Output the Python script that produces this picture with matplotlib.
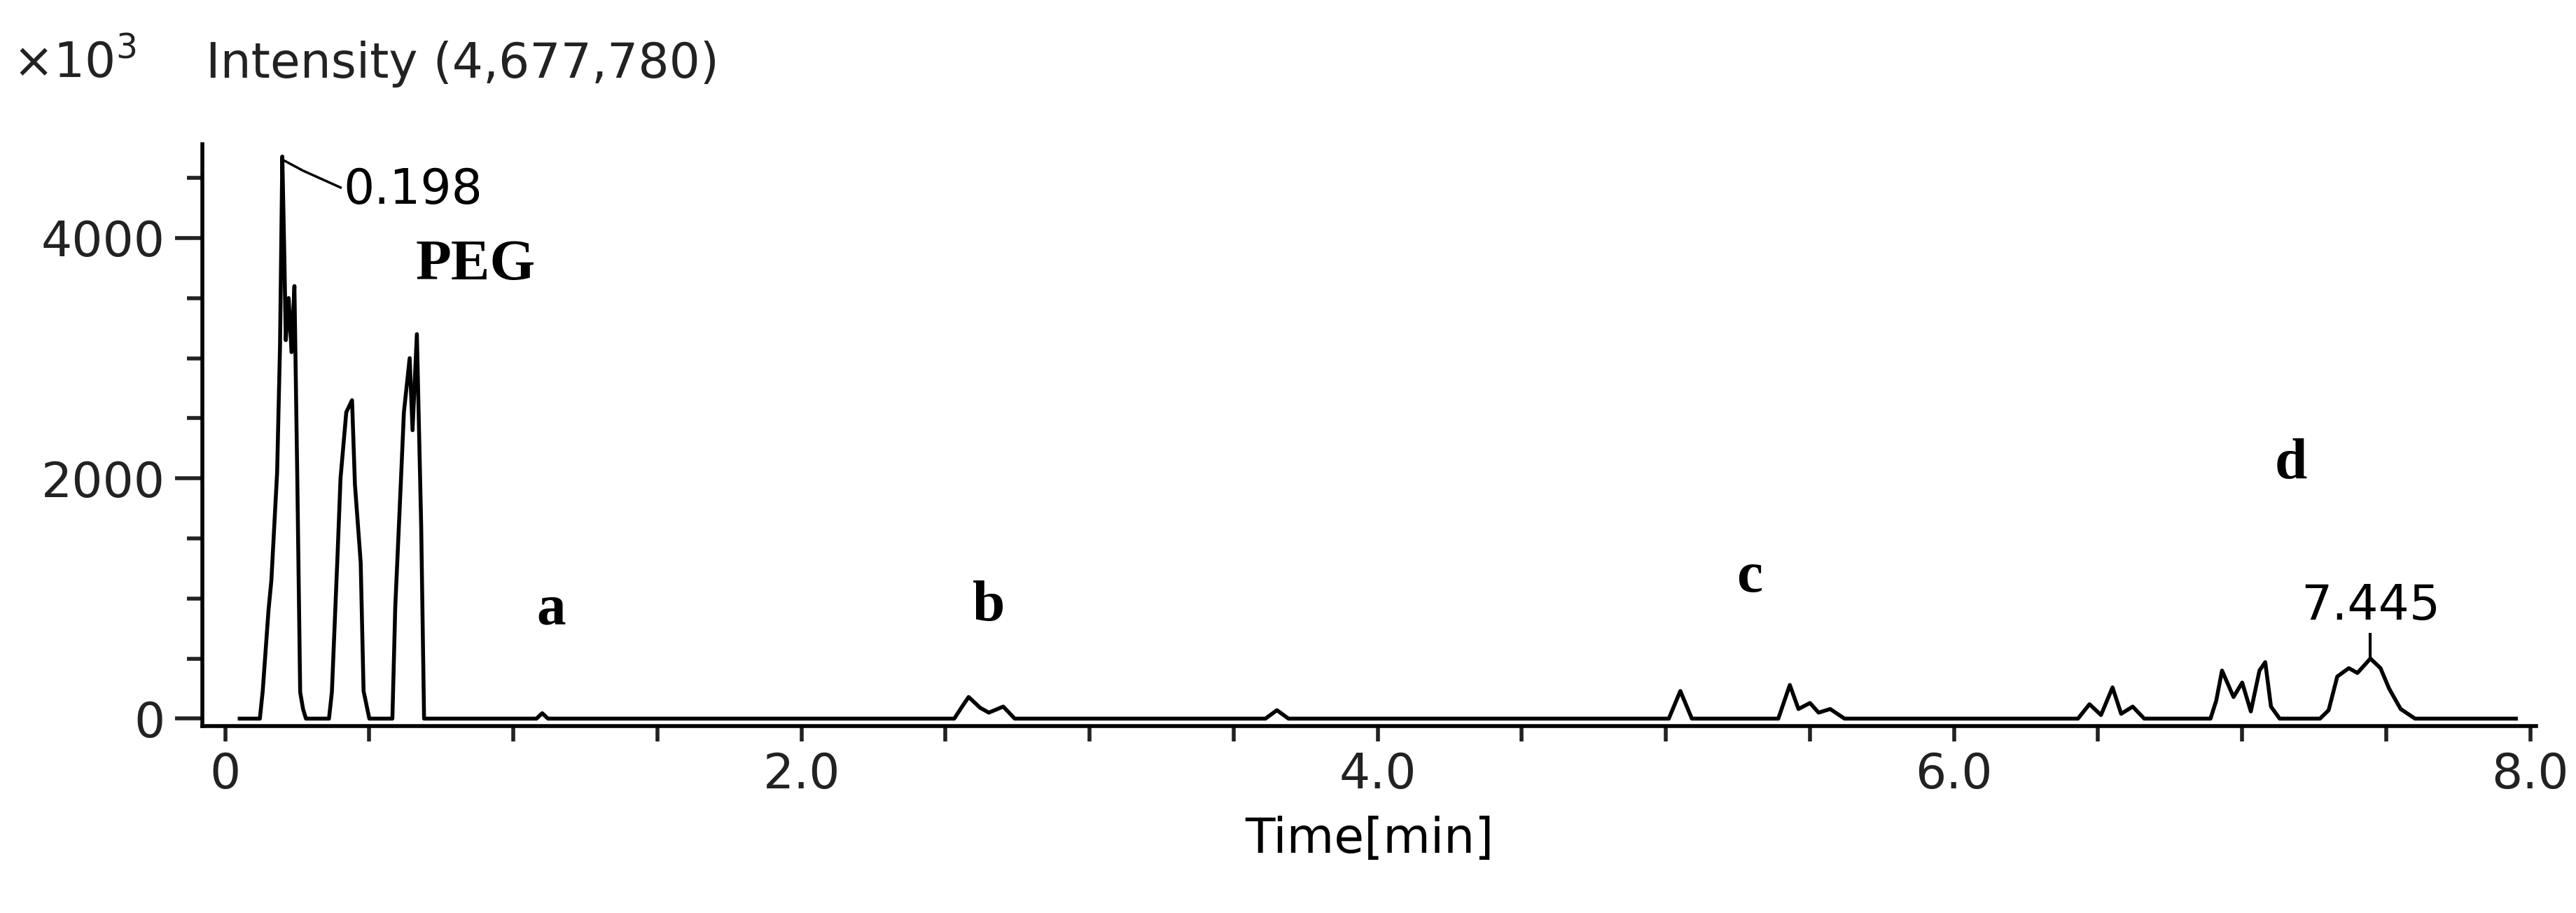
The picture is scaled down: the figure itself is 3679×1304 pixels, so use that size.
import matplotlib
matplotlib.use('Agg')
import matplotlib.pyplot as plt
from matplotlib.ticker import MultipleLocator

plt.rcParams.update({'font.family': 'DejaVu Sans', 'font.size': 50})

# chromatogram trace vertices (time [min], intensity x10^3)
time = [0.05, 0.12, 0.13, 0.15, 0.16, 0.18, 0.19, 0.198, 0.205, 0.21, 0.22, 0.23, 0.24, 0.25,
        0.26, 0.27, 0.28, 0.30, 0.36, 0.37, 0.39, 0.40, 0.42, 0.44, 0.45, 0.47, 0.48, 0.50, 0.52,
        0.58, 0.59, 0.61, 0.62, 0.64, 0.65, 0.665, 0.68, 0.69, 0.70,
        1.08, 1.10, 1.12,
        2.53, 2.56, 2.58, 2.62, 2.65, 2.70, 2.74,
        3.61, 3.65, 3.69,
        5.01, 5.05, 5.09,
        5.39, 5.43, 5.46, 5.50, 5.53, 5.57, 5.62,
        6.43, 6.47, 6.51, 6.55, 6.58, 6.62, 6.66,
        6.89, 6.91, 6.93, 6.97, 7.00, 7.03, 7.06, 7.08, 7.10, 7.13,
        7.27, 7.30, 7.33, 7.37, 7.40, 7.445, 7.48, 7.51, 7.55, 7.60, 7.95]
intensity = [0, 0, 230, 900, 1150, 2050, 3100, 4678, 3850, 3150, 3500, 3050, 3600, 2000,
             220, 80, 0, 0, 0, 220, 1380, 2000, 2550, 2650, 1950, 1300, 230, 0, 0,
             0, 930, 2000, 2550, 3000, 2400, 3200, 1600, 0, 0,
             0, 45, 0,
             0, 110, 180, 90, 50, 100, 0,
             0, 70, 0,
             0, 230, 0,
             0, 280, 80, 130, 50, 80, 0,
             0, 120, 30, 260, 40, 100, 0,
             0, 150, 400, 180, 300, 60, 400, 470, 100, 0,
             0, 70, 350, 420, 380, 500, 420, 250, 80, 0, 0]

fig = plt.figure(figsize=(36.79, 13.04), dpi=100)
ax = fig.add_axes([0.0785, 0.205, 0.906, 0.637])
ax.plot(time, intensity, color='black', lw=4)

ax.set_xlim(-0.08, 8.02)
ax.set_ylim(-60, 4780)
ax.spines['top'].set_visible(False)
ax.spines['right'].set_visible(False)
for s in ('left', 'bottom'):
    ax.spines[s].set_linewidth(4)
ax.xaxis.set_minor_locator(MultipleLocator(0.5))
ax.yaxis.set_major_locator(MultipleLocator(2000))
ax.yaxis.set_minor_locator(MultipleLocator(500))
ax.set_xticks([0, 2, 4, 6, 8])
ax.set_xticklabels(['0', '2.0', '4.0', '6.0', '8.0'])
ax.tick_params(axis='both', which='both', direction='out', width=4, colors='#222222')
ax.tick_params(axis='x', which='both', length=16, pad=10)
ax.tick_params(axis='y', which='major', length=28, pad=10)
ax.tick_params(axis='y', which='minor', length=16)
ax.set_xlabel('Time[min]', labelpad=18)

fig.text(0.005, 0.915, r'$\times 10^3$', fontsize=50, color='#222222')
fig.text(0.080, 0.915, 'Intensity (4,677,780)', fontsize=50, color='#222222')

ax.plot([0.2, 0.27, 0.4], [4650, 4560, 4420], color='black', lw=2.5)
ax.text(0.41, 4400, '0.198', fontsize=50, va='center', ha='left')
ax.plot([7.445, 7.445], [520, 700], color='black', lw=3)
ax.text(7.445, 740, '7.445', fontsize=50, ha='center', va='bottom')

for lab, tx, ty in [('PEG', 0.87, 3770), ('a', 1.13, 900), ('b', 2.65, 930),
                    ('c', 5.29, 1170), ('d', 7.17, 2116)]:
    ax.text(tx, ty, lab, fontsize=60, fontweight='bold', family='Liberation Serif',
            ha='center', va='center')

fig.savefig('out.png', dpi=100)
